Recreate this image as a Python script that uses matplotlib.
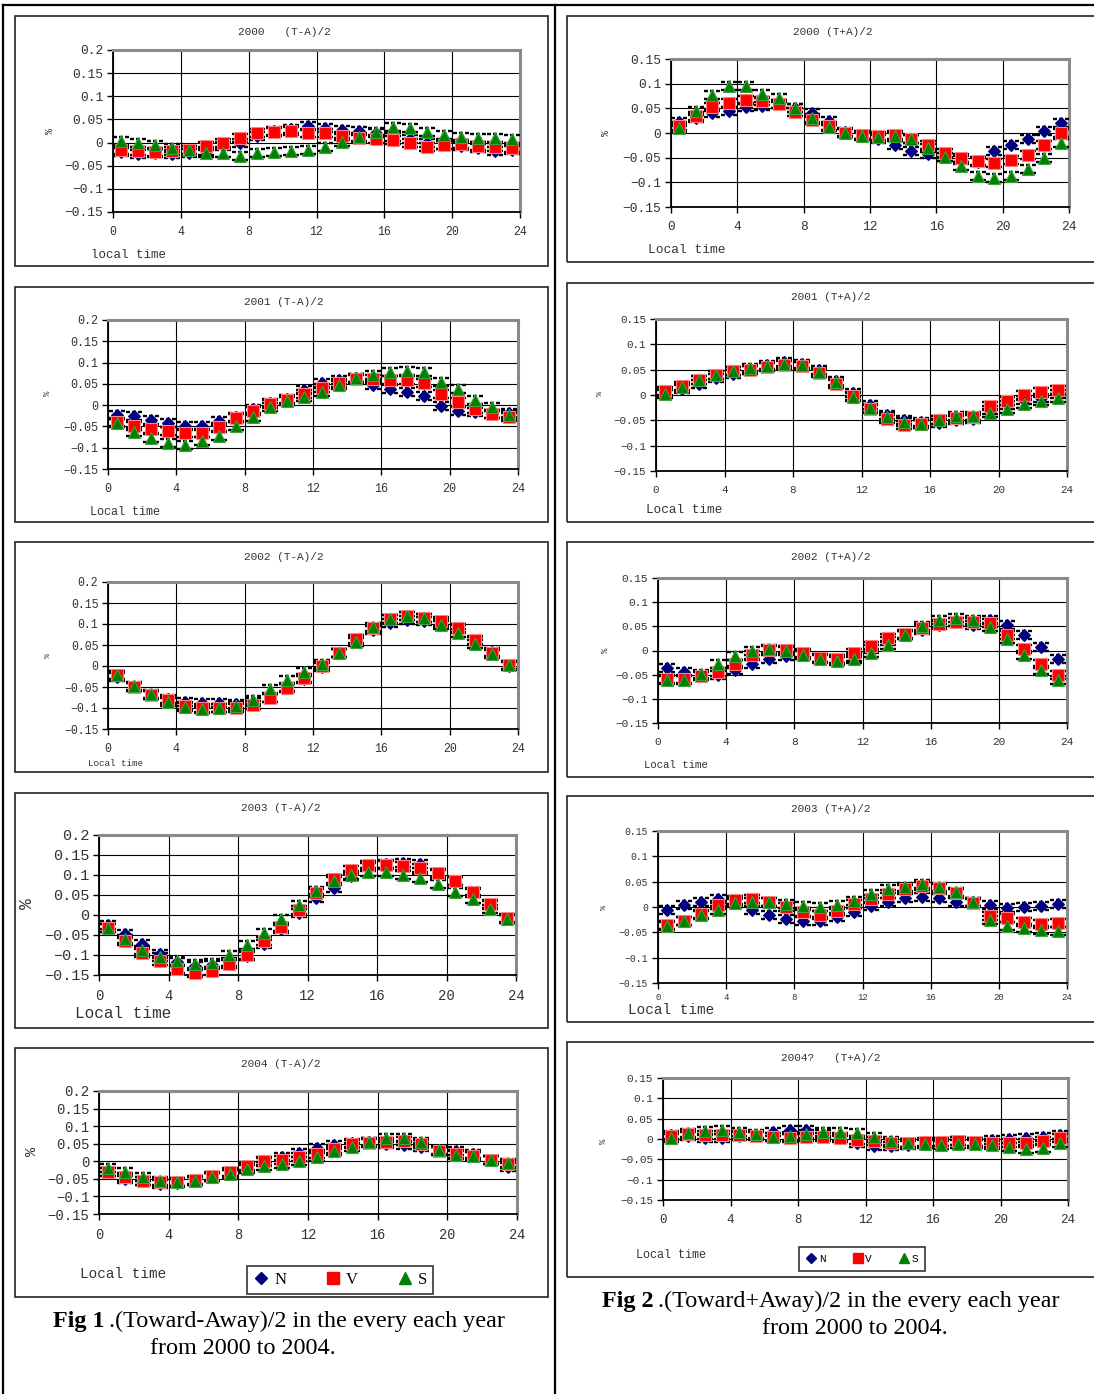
import matplotlib
matplotlib.use('Agg')
import matplotlib.pyplot as plt
from matplotlib.path import Path
from matplotlib.lines import Line2D
from matplotlib.patches import Rectangle
from matplotlib.ticker import FuncFormatter

W, H = 1094, 1394

# ---------------- data ----------------
HOURS = [0.5, 1.5, 2.5, 3.5, 4.5, 5.5, 6.5, 7.5, 8.5, 9.5, 10.5, 11.5,
         12.5, 13.5, 14.5, 15.5, 16.5, 17.5, 18.5, 19.5, 20.5, 21.5, 22.5, 23.5]
X_TICKS = [0, 4, 8, 12, 16, 20, 24]
Y_TICKS_TA = [-0.15, -0.1, -0.05, 0, 0.05, 0.1, 0.15, 0.2]
Y_TICKS_TP = [-0.15, -0.1, -0.05, 0, 0.05, 0.1, 0.15]
SERIES = ['N', 'V', 'S']

# 2000 (T-A)/2
N00_TA = [-0.02, -0.025, -0.023, -0.025, -0.023, -0.018, -0.008, 0.0, 0.015, 0.025, 0.03, 0.035,
          0.032, 0.028, 0.025, 0.02, 0.012, 0.008, -0.002, -0.005, -0.008, -0.012, -0.018, -0.016]
V00_TA = [-0.016, -0.018, -0.02, -0.018, -0.016, -0.008, 0.0, 0.01, 0.02, 0.023, 0.024, 0.02,
          0.02, 0.015, 0.01, 0.008, 0.006, -0.002, -0.01, -0.006, -0.004, -0.008, -0.01, -0.012]
S00_TA = [0.003, 0.0, -0.005, -0.012, -0.016, -0.022, -0.022, -0.028, -0.022, -0.02, -0.018, -0.015,
          -0.01, 0.002, 0.012, 0.022, 0.033, 0.032, 0.022, 0.016, 0.012, 0.01, 0.01, 0.008]
# 2000 (T+A)/2
N00_TP = [0.022, 0.03, 0.04, 0.045, 0.053, 0.055, 0.058, 0.05, 0.04, 0.025, 0.003, -0.005,
          -0.012, -0.025, -0.037, -0.042, -0.048, -0.055, -0.058, -0.036, -0.024, -0.012, 0.005, 0.021]
V00_TP = [0.015, 0.035, 0.052, 0.06, 0.067, 0.065, 0.058, 0.042, 0.026, 0.015, 0.0, -0.005,
          -0.006, -0.005, -0.012, -0.025, -0.04, -0.05, -0.057, -0.06, -0.055, -0.044, -0.024, 0.0]
S00_TP = [0.01, 0.045, 0.078, 0.095, 0.095, 0.08, 0.07, 0.05, 0.03, 0.013, -0.001, -0.007,
          -0.008, -0.006, -0.012, -0.03, -0.048, -0.067, -0.087, -0.092, -0.087, -0.073, -0.05, -0.02]
# 2001 (T-A)/2
N01_TA = [-0.022, -0.026, -0.034, -0.042, -0.05, -0.048, -0.037, -0.027, -0.01, 0.005, 0.015, 0.035,
          0.052, 0.06, 0.063, 0.048, 0.037, 0.032, 0.022, -0.003, -0.013, -0.017, -0.02, -0.018]
V01_TA = [-0.04, -0.048, -0.055, -0.06, -0.066, -0.065, -0.052, -0.03, -0.013, 0.002, 0.013, 0.025,
          0.04, 0.052, 0.062, 0.062, 0.06, 0.06, 0.053, 0.027, 0.007, -0.008, -0.02, -0.027]
S01_TA = [-0.043, -0.063, -0.078, -0.088, -0.093, -0.085, -0.072, -0.048, -0.028, -0.005, 0.01, 0.018,
          0.032, 0.048, 0.063, 0.07, 0.077, 0.08, 0.077, 0.055, 0.037, 0.012, -0.005, -0.022]
# 2001 (T+A)/2
N01_TP = [0.005, 0.012, 0.022, 0.033, 0.042, 0.05, 0.06, 0.066, 0.062, 0.05, 0.028, 0.003,
          -0.02, -0.04, -0.05, -0.053, -0.055, -0.05, -0.047, -0.03, -0.02, -0.01, -0.005, 0.002]
V01_TP = [0.008, 0.018, 0.03, 0.04, 0.047, 0.05, 0.056, 0.06, 0.057, 0.043, 0.022, -0.002,
          -0.028, -0.048, -0.06, -0.058, -0.05, -0.045, -0.043, -0.022, -0.012, 0.0, 0.005, 0.01]
S01_TP = [0.002, 0.015, 0.03, 0.04, 0.048, 0.053, 0.057, 0.062, 0.06, 0.045, 0.025, -0.003,
          -0.026, -0.043, -0.053, -0.057, -0.05, -0.042, -0.042, -0.035, -0.028, -0.018, -0.012, -0.005]
# 2002 (T-A)/2
N02_TA = [-0.025, -0.05, -0.068, -0.078, -0.085, -0.087, -0.088, -0.09, -0.085, -0.075, -0.05, -0.032,
          -0.002, 0.032, 0.062, 0.085, 0.102, 0.11, 0.108, 0.103, 0.088, 0.06, 0.033, 0.0]
V02_TA = [-0.022, -0.05, -0.068, -0.082, -0.095, -0.1, -0.1, -0.1, -0.093, -0.075, -0.052, -0.028,
          0.0, 0.032, 0.065, 0.09, 0.112, 0.118, 0.115, 0.107, 0.09, 0.062, 0.032, 0.003]
S02_TA = [-0.022, -0.047, -0.066, -0.085, -0.097, -0.102, -0.1, -0.095, -0.08, -0.055, -0.033, -0.015,
          0.004, 0.03, 0.058, 0.093, 0.112, 0.118, 0.115, 0.098, 0.078, 0.052, 0.028, 0.002]
# 2002 (T+A)/2
N02_TP = [-0.037, -0.045, -0.05, -0.05, -0.04, -0.028, -0.017, -0.012, -0.008, -0.015, -0.018, -0.013,
          0.003, 0.02, 0.032, 0.042, 0.053, 0.058, 0.052, 0.063, 0.052, 0.033, 0.008, -0.017]
V02_TP = [-0.058, -0.058, -0.053, -0.045, -0.027, -0.01, 0.002, 0.002, -0.005, -0.015, -0.017, -0.005,
          0.01, 0.025, 0.035, 0.047, 0.055, 0.058, 0.058, 0.057, 0.032, 0.003, -0.027, -0.05]
S02_TP = [-0.062, -0.06, -0.048, -0.028, -0.012, -0.001, 0.003, 0.0, -0.01, -0.018, -0.022, -0.018,
          -0.005, 0.012, 0.032, 0.05, 0.063, 0.067, 0.063, 0.048, 0.023, -0.01, -0.04, -0.06]
# 2003 (T-A)/2
N03_TA = [-0.025, -0.048, -0.073, -0.098, -0.118, -0.128, -0.125, -0.118, -0.102, -0.072, -0.035, 0.005,
          0.042, 0.068, 0.098, 0.12, 0.128, 0.13, 0.127, 0.103, 0.085, 0.055, 0.025, -0.01]
V03_TA = [-0.033, -0.065, -0.095, -0.115, -0.135, -0.145, -0.14, -0.122, -0.1, -0.065, -0.03, 0.012,
          0.055, 0.09, 0.112, 0.125, 0.125, 0.123, 0.118, 0.105, 0.085, 0.058, 0.027, -0.008]
S03_TA = [-0.033, -0.06, -0.088, -0.105, -0.115, -0.123, -0.12, -0.1, -0.075, -0.045, -0.01, 0.025,
          0.06, 0.085, 0.1, 0.108, 0.108, 0.1, 0.092, 0.077, 0.058, 0.04, 0.015, -0.01]
# 2003 (T+A)/2
N03_TP = [-0.005, 0.003, 0.01, 0.015, 0.01, -0.005, -0.015, -0.023, -0.027, -0.027, -0.02, -0.01,
          0.002, 0.01, 0.017, 0.02, 0.017, 0.01, 0.01, 0.003, -0.001, 0.0, 0.002, 0.005]
V03_TP = [-0.035, -0.028, -0.013, 0.003, 0.013, 0.016, 0.01, 0.0, -0.01, -0.015, -0.008, 0.005,
          0.015, 0.025, 0.035, 0.042, 0.038, 0.028, 0.008, -0.018, -0.022, -0.03, -0.033, -0.032]
S03_TP = [-0.038, -0.028, -0.015, -0.005, 0.008, 0.01, 0.01, 0.005, 0.002, 0.0, 0.003, 0.012,
          0.025, 0.035, 0.04, 0.045, 0.04, 0.03, 0.01, -0.025, -0.038, -0.042, -0.045, -0.047]
# 2004 (T-A)/2
N04_TA = [-0.03, -0.05, -0.057, -0.065, -0.063, -0.055, -0.045, -0.035, -0.02, -0.002, 0.012, 0.025,
          0.037, 0.045, 0.053, 0.055, 0.05, 0.045, 0.04, 0.03, 0.028, 0.02, 0.005, -0.015]
V04_TA = [-0.03, -0.045, -0.055, -0.058, -0.058, -0.053, -0.043, -0.03, -0.013, 0.0, 0.005, 0.012,
          0.022, 0.035, 0.048, 0.052, 0.055, 0.057, 0.048, 0.03, 0.02, 0.015, 0.005, -0.008]
S04_TA = [-0.018, -0.03, -0.045, -0.055, -0.058, -0.055, -0.045, -0.035, -0.022, -0.012, -0.008, 0.0,
          0.012, 0.028, 0.042, 0.055, 0.065, 0.065, 0.055, 0.032, 0.018, 0.015, 0.005, -0.005]
# 2004? (T+A)/2
N04_TP = [0.01, 0.008, 0.003, 0.003, 0.007, 0.01, 0.017, 0.022, 0.022, 0.012, 0.005, -0.01,
          -0.018, -0.018, -0.015, -0.01, -0.008, -0.005, -0.008, -0.002, -0.001, 0.003, 0.005, 0.01]
V04_TP = [0.008, 0.012, 0.01, 0.01, 0.01, 0.008, 0.006, 0.003, 0.005, 0.005, 0.002, -0.003,
          -0.005, -0.01, -0.01, -0.008, -0.007, -0.005, -0.008, -0.01, -0.01, -0.01, -0.005, 0.003]
S04_TP = [0.002, 0.015, 0.02, 0.023, 0.017, 0.012, 0.005, 0.007, 0.012, 0.018, 0.018, 0.015,
          0.005, -0.005, -0.01, -0.013, -0.015, -0.013, -0.013, -0.015, -0.02, -0.025, -0.022, -0.01]

TITLES = ['2000   (T-A)/2', '2000 (T+A)/2', '2001 (T-A)/2', '2001 (T+A)/2',
          '2002 (T-A)/2', '2002 (T+A)/2', '2003 (T-A)/2', '2003 (T+A)/2',
          '2004 (T-A)/2', '2004?   (T+A)/2']

# ---------------- style ----------------
MONO = ['Liberation Mono', 'DejaVu Sans Mono']
SERIF = ['Liberation Serif', 'DejaVu Serif']
COLORS = {'N': '#000080', 'V': '#ff0000', 'S': '#008000'}
MARKERS = {'N': 'D', 'V': 's', 'S': '^'}
MSIZE = {'N': 6.5, 'V': 8.5, 'S': 8.5}
MEC = {'N': '#000080', 'V': '#ff8080', 'S': '#40a040'}
TXT = '#333333'

# cap marker: two dashed horizontal bars above / below the point
_v, _c = [], []
for yy in (-0.55, 0.55):
    for a, b in [(-1.0, -0.55), (-0.25, 0.25), (0.55, 1.0)]:
        _v += [(a, yy), (b, yy)]
        _c += [Path.MOVETO, Path.LINETO]
CAP = Path(_v, _c)

PANELS = [
    dict(d=(N00_TA, V00_TA, S00_TA), yt=Y_TICKS_TA, box=(15, 16, 548, 266), area=(113, 50, 520, 212),
         tt=(284, 32), xl='local time', xl_xy=(91, 255), xl_fs=9, ytf=9.3, xtf=8.3, xpad=6, pct=(50, 131), pct_fs=7),
    dict(d=(N00_TP, V00_TP, S00_TP), yt=Y_TICKS_TP, box=(567, 16, 1100, 262), area=(671, 59, 1069, 207),
         tt=(833, 32), xl='Local time', xl_xy=(648, 250), xl_fs=9.3, ytf=9.3, xtf=9.3, xpad=6, pct=(606, 133), pct_fs=7),
    dict(d=(N01_TA, V01_TA, S01_TA), yt=Y_TICKS_TA, box=(15, 287, 548, 522), area=(108, 320, 518, 469),
         tt=(284, 302), xl='Local time', xl_xy=(90, 512), xl_fs=8.5, ytf=8.5, xtf=8.5, xpad=6, pct=(47, 393), pct_fs=6.5),
    dict(d=(N01_TP, V01_TP, S01_TP), yt=Y_TICKS_TP, box=(567, 283, 1100, 522), area=(656, 319, 1067, 471),
         tt=(831, 297), xl='Local time', xl_xy=(646, 510), xl_fs=9.2, ytf=7.8, xtf=7.8, xpad=6, pct=(601, 393), pct_fs=6),
    dict(d=(N02_TA, V02_TA, S02_TA), yt=Y_TICKS_TA, box=(15, 542, 548, 772), area=(108, 582, 518, 729),
         tt=(284, 557), xl='Local time', xl_xy=(88, 763), xl_fs=6.7, ytf=8.3, xtf=8.3, xpad=6, pct=(49, 655), pct_fs=6),
    dict(d=(N02_TP, V02_TP, S02_TP), yt=Y_TICKS_TP, box=(567, 542, 1100, 777), area=(658, 578, 1067, 723),
         tt=(831, 557), xl='Local time', xl_xy=(644, 765), xl_fs=7.7, ytf=8.0, xtf=8.0, xpad=6, pct=(605, 650), pct_fs=6.5),
    dict(d=(N03_TA, V03_TA, S03_TA), yt=Y_TICKS_TA, box=(15, 793, 548, 1028), area=(99, 835, 516, 975),
         tt=(281, 808), xl='Local time', xl_xy=(75, 1013), xl_fs=11.6, ytf=11.0, xtf=10.0, xpad=6, pct=(28, 904), pct_fs=13),
    dict(d=(N03_TP, V03_TP, S03_TP), yt=Y_TICKS_TP, box=(567, 796, 1100, 1022), area=(658, 831, 1067, 983),
         tt=(831, 809), xl='Local time', xl_xy=(628, 1010), xl_fs=10.4, ytf=7.0, xtf=6.5, xpad=3, pct=(605, 908), pct_fs=6),
    dict(d=(N04_TA, V04_TA, S04_TA), yt=Y_TICKS_TA, box=(15, 1048, 548, 1297), area=(99, 1091, 517, 1214),
         tt=(281, 1064), xl='Local time', xl_xy=(80, 1274), xl_fs=10.4, ytf=10.0, xtf=9.8, xpad=6, pct=(32, 1151), pct_fs=11),
    dict(d=(N04_TP, V04_TP, S04_TP), yt=Y_TICKS_TP, box=(567, 1042, 1100, 1277), area=(663, 1078, 1068, 1200),
         tt=(831, 1058), xl='Local time', xl_xy=(636, 1255), xl_fs=8.5, ytf=8.0, xtf=9.0, xpad=6, pct=(604, 1141), pct_fs=6.5),
]


def fx(x):
    return x / W


def fy(y):
    return 1 - y / H


def fmt(v, _):
    if abs(v) < 1e-9:
        return '0'
    return ('%g' % v).replace('-', '\u2212')


fig = plt.figure(figsize=(W / 100, H / 100), dpi=100)
fig.patch.set_facecolor('white')

# table frame lines
for (x0, y0, x1, y1) in [(3, 5, 3, 1394), (3, 5, 1094, 5), (555, 5, 555, 1394)]:
    fig.add_artist(Line2D([fx(x0), fx(x1)], [fy(y0), fy(y1)], color='black', lw=1.6))

for i, p in enumerate(PANELS):
    bx0, by0, bx1, by1 = p['box']
    fig.add_artist(Rectangle((fx(bx0), fy(by1)), fx(bx1 - bx0), (by1 - by0) / H,
                             fill=False, edgecolor='#222222', lw=1.2))
    ax0, ay0, ax1, ay1 = p['area']
    ax = fig.add_axes([fx(ax0), fy(ay1), fx(ax1 - ax0), (ay1 - ay0) / H])
    ax.set_facecolor('white')
    yt = p['yt']
    ax.set_xlim(0, 24)
    ax.set_ylim(yt[0], yt[-1])
    ax.set_xticks(X_TICKS)
    ax.set_yticks(yt)
    ax.yaxis.set_major_formatter(FuncFormatter(fmt))
    ax.grid(True, color='black', lw=0.8)
    ax.set_axisbelow(True)
    for s in ('top', 'right'):
        ax.spines[s].set_color('#8a8a8a')
        ax.spines[s].set_linewidth(2.2)
    for s in ('left', 'bottom'):
        ax.spines[s].set_color('black')
        ax.spines[s].set_linewidth(1.3)
    ax.tick_params(axis='both', direction='out', length=4, width=1, colors='black', pad=3)
    for lab in ax.get_yticklabels():
        lab.set_fontfamily(MONO)
        lab.set_fontsize(p['ytf'])
        lab.set_color(TXT)
    for lab in ax.get_xticklabels():
        lab.set_fontfamily(MONO)
        lab.set_fontsize(p['xtf'])
        lab.set_color(TXT)
    ax.tick_params(axis='x', pad=p['xpad'])

    for name, vals in zip(SERIES, p['d']):
        ax.plot(HOURS, vals, ls='none', marker=CAP, ms=11.5, mec='black', mew=1.7,
                mfc='none', zorder=3, clip_on=False)
    for name, vals in zip(SERIES, p['d']):
        ax.plot(HOURS, vals, ls='none', marker=MARKERS[name], ms=MSIZE[name],
                mfc=COLORS[name], mec=MEC[name], mew=0.8, zorder=4, clip_on=False)

    fig.text(fx(p['tt'][0]), fy(p['tt'][1]), TITLES[i], ha='center', va='center',
             fontsize=8, family=MONO, color=TXT)
    fig.text(fx(p['xl_xy'][0]), fy(p['xl_xy'][1]), p['xl'], ha='left', va='center',
             fontsize=p['xl_fs'], family=MONO, color=TXT)
    fig.text(fx(p['pct'][0]), fy(p['pct'][1]), '%', ha='center', va='center', rotation=90,
             fontsize=p['pct_fs'], family=MONO, color=TXT)

# legends
def handles(scale):
    return [Line2D([], [], ls='none', marker=MARKERS[n], ms=MSIZE[n] * scale,
                   mfc=COLORS[n], mec=COLORS[n]) for n in SERIES]

leg1 = fig.legend(handles(1.0), SERIES, loc='center', bbox_to_anchor=(fx(340), fy(1280)),
                  ncol=3, frameon=True, fancybox=False, edgecolor='black', borderpad=0.35,
                  handlelength=1.0, handletextpad=0.3, columnspacing=2.3,
                  prop={'family': SERIF, 'size': 12})
leg1.get_frame().set_linewidth(1.2)
leg2 = fig.legend(handles(0.8), SERIES, loc='center', bbox_to_anchor=(fx(862), fy(1259)),
                  ncol=3, frameon=True, fancybox=False, edgecolor='black', borderpad=0.6,
                  handlelength=1.0, handletextpad=0.2, columnspacing=2.4,
                  prop={'family': MONO, 'size': 8})
leg2.get_frame().set_linewidth(1.2)

# captions
CAP_FS = 17.4
fig.text(fx(53), fy(1321), 'Fig 1', ha='left', va='center', fontsize=CAP_FS, family=SERIF, weight='bold')
fig.text(fx(109), fy(1321), '.(Toward-Away)/2 in the every each year', ha='left', va='center',
         fontsize=CAP_FS, family=SERIF)
fig.text(fx(243), fy(1349), 'from 2000 to 2004.', ha='center', va='center', fontsize=CAP_FS, family=SERIF)
fig.text(fx(602), fy(1301), 'Fig 2', ha='left', va='center', fontsize=CAP_FS, family=SERIF, weight='bold')
fig.text(fx(658), fy(1301), '.(Toward+Away)/2 in the every each year', ha='left', va='center',
         fontsize=CAP_FS, family=SERIF)
fig.text(fx(855), fy(1328), 'from 2000 to 2004.', ha='center', va='center', fontsize=CAP_FS, family=SERIF)

fig.savefig('out.png', dpi=100, facecolor='white')
